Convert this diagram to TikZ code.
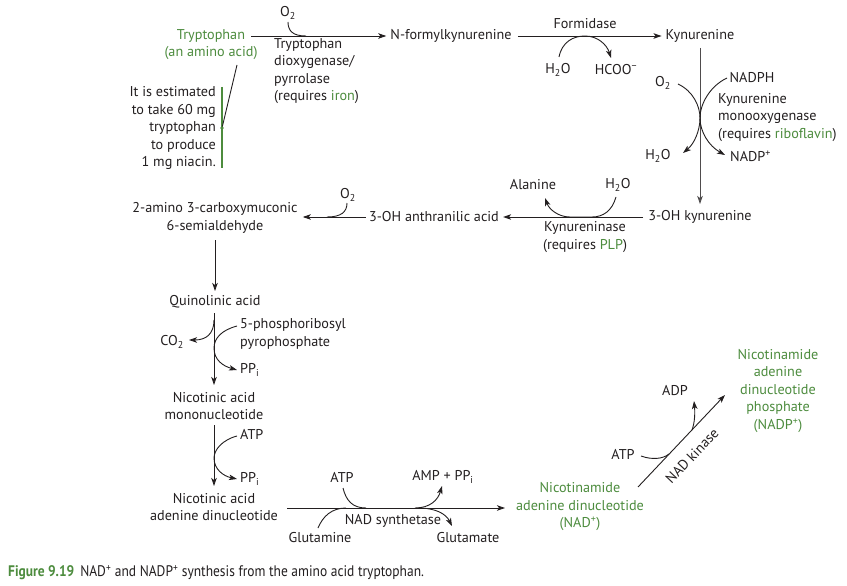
\documentclass[tikz,border=0pt]{standalone}
\usepackage{fontspec}
\setmainfont{PT Sans}
\newfontfamily\capfont[FakeStretch=0.88]{PT Sans}
\usetikzlibrary{arrows.meta}
\definecolor{grn}{RGB}{77,140,62}
\definecolor{ink}{RGB}{35,31,32}
\begin{document}
\begin{tikzpicture}[x=1pt,y=-1pt,
  every node/.style={inner sep=0pt, text=ink, font=\fontsize{14.2}{17.5}\selectfont},
  arr/.style={draw=ink, line width=0.9pt, -{Stealth[length=8pt,width=5.5pt,inset=2pt]}},
  ln/.style={draw=ink, line width=0.9pt},
  gtxt/.style={text=grn}]
\useasboundingbox[fill=white] (0,0) rectangle (847,586);

% ---- top row
\node[gtxt] (trp) at (211,36) {Tryptophan};
\node[gtxt] (trp2) at (211,53) {(an amino acid)};
\node (o2a) at (288,13) {O\textsubscript{2}};
\node (nfk) at (451,36) {N-formylkynurenine};
\node[anchor=north west, align=left] (enz1) at (274,38) {Tryptophan\\dioxygenase/\\pyrrolase\\(requires \textcolor{grn}{iron})};
\node[anchor=east, align=right] (note) at (216,128) {It is estimated\\to take 60 mg\\tryptophan\\to produce\\1 mg niacin.};
\coordinate (gtop) at (222,87);
\coordinate (gbot) at (222,168);
\coordinate (pstart) at (237,65);
\coordinate (pend) at (222,128);
\draw[draw=grn, line width=1.1pt] (gtop) -- (gbot);
\draw[ln] (pstart) -- (pend);
\fill[grn] (pend) circle (1.8pt);

\coordinate (j1) at (306,36);
\draw[arr] ([xshift=6pt]trp.east) -- ([xshift=-4pt]nfk.west);
\draw[ln] (288,22) .. controls (288,31) and (293,36) .. (j1);

\node (form) at (585,24) {Formidase};
\node (h2oa) at (558,70) {H\textsubscript{2}O};
\node (hcoo) at (616,70) {HCOO\textsuperscript{−}};
\node (kyn) at (700,36) {Kynurenine};
\draw[arr] ([xshift=6pt]nfk.east) -- ([xshift=-4pt]kyn.west);
\draw[arr] (559,57) .. controls (562,42) and (573,36) .. (585,36) .. controls (598,36) and (607,45) .. (611,58);

% ---- kynurenine monooxygenase
\node (ohk) at (700,217) {3-OH kynurenine};
\coordinate (kv1) at (700,48);
\coordinate (kv2) at (700,204);
\draw[arr, draw=ink!80] (kv1) -- (kv2);
\node (o2b) at (663,83) {O\textsubscript{2}};
\node (nadph) at (752,78) {NADPH};
\node[anchor=north west, align=left] (enz2) at (718,93) {Kynurenine\\monooxygenase\\(requires \textcolor{grn}{riboflavin})};
\node (h2ob) at (658,156) {H\textsubscript{2}O};
\node[anchor=west] (nadpp) at (730,156) {NADP\textsuperscript{+}};
\coordinate (km) at (700,118);
\draw[arr] (678,84) .. controls (693,91) and (700,106) .. (km) .. controls (700,131) and (694,144) .. (683,153);
\draw[arr] (727,78) .. controls (710,86) and (700,104) .. (km) .. controls (700,132) and (709,146) .. (725,155);

% ---- kynureninase
\node (anth) at (434,217) {3-OH anthranilic acid};
\node (ala) at (533,185) {Alanine};
\node (h2oc) at (618,185) {H\textsubscript{2}O};
\node[align=center] (enz3) at (585,237) {Kynureninase\\(requires \textcolor{grn}{PLP})};
\draw[arr] ([xshift=-5pt]ohk.west) -- ([xshift=4pt]anth.east);
\draw[arr] (616,197) .. controls (612,211) and (603,217) .. (592,217) -- (570,217) .. controls (558,217) and (549,209) .. (545,198);

% ---- anthranilic -> semialdehyde
\node[align=center] (amino) at (215,218) {2-amino 3-carboxymuconic\\6-semialdehyde};
\node (o2c) at (348,195) {O\textsubscript{2}};
\draw[arr] ([xshift=-3pt]anth.west) -- ([xshift=5pt]amino.east |- anth.west);
\draw[ln] (347,203) .. controls (347,212) and (341,217) .. (327,217);

% ---- quinolinic acid
\node (quin) at (215,302) {Quinolinic acid};
\coordinate (qa1) at (215,240);
\coordinate (qa2) at (215,291);
\draw[arr] (qa1) -- (qa2);

\node (nmn) [align=center] at (214,406) {Nicotinic acid\\mononucleotide};
\node (co2) at (172,342) {CO\textsubscript{2}};
\node[anchor=west, align=left] (prpp) at (240,334) {5-phosphoribosyl\\pyrophosphate};
\node[anchor=west] (ppi1) at (240,370) {PP\textsubscript{i}};
\draw[arr] (214,313) -- (214,385);
\draw[arr] (214,320) .. controls (214,334) and (206,340) .. (189,340);
\draw[arr] (237,326) .. controls (222,330) and (214,338) .. (214,348) .. controls (214,360) and (223,366) .. (237,370);

% ---- NAAD
\node (naad) [align=center] at (214,507) {Nicotinic acid\\adenine dinucleotide};
\node[anchor=west] (atp1) at (240,434) {ATP};
\node[anchor=west] (ppi2) at (240,479) {PP\textsubscript{i}};
\draw[arr] (214,425) -- (214,486);
\draw[arr] (237,436) .. controls (222,440) and (214,450) .. (214,458) .. controls (214,469) and (223,476) .. (237,479);

% ---- NAD synthetase
\node[gtxt, align=center] (nad) at (580,507) {Nicotinamide\\adenine dinucleotide\\(NAD\textsuperscript{+})};
\node (atp2) at (342,477) {ATP};
\node (amp) at (443,477) {AMP + PP\textsubscript{i}};
\node (nads) at (393,521) {NAD synthetase};
\node (gln) at (320,538) {Glutamine};
\node (glu) at (468,538) {Glutamate};
\coordinate (s1) at (287,508);
\coordinate (s2) at (505,508);
\draw[arr] (s1) -- (s2);
\draw[ln] (343,488) .. controls (346,500) and (352,508) .. (366,508);
\draw[ln] (318,528) .. controls (323,516) and (332,508) .. (346,508);
\draw[arr] (415,508) .. controls (430,508) and (438,500) .. (442,486);
\draw[arr] (418,508) .. controls (436,508) and (446,514) .. (452,526);

% ---- NAD kinase
\node[gtxt, align=center] (nadp) at (778,391) {Nicotinamide\\adenine\\dinucleotide\\phosphate\\(NADP\textsuperscript{+})};
\node (atp3) at (623,454) {ATP};
\node (adp) at (675,391) {ADP};
\coordinate (k1) at (638,487);
\coordinate (k2) at (725,395);
\draw[arr] (k1) -- (k2);
\node[rotate=46.6] (nadk) at (692,456) {NAD kinase};
\draw[ln] (641,456) .. controls (652,460) and (663,459) .. (669,454);
\draw[arr] (692,430) .. controls (695,422) and (695,412) .. (694,401);

% ---- caption
\node[anchor=west, font=\capfont\fontsize{15.3}{17}\selectfont] (cap) at (8,573) {\textcolor{grn}{\bfseries Figure 9.19}\hspace{6pt}NAD\textsuperscript{+} and NADP\textsuperscript{+} synthesis from the amino acid tryptophan.};
\end{tikzpicture}
\end{document}
